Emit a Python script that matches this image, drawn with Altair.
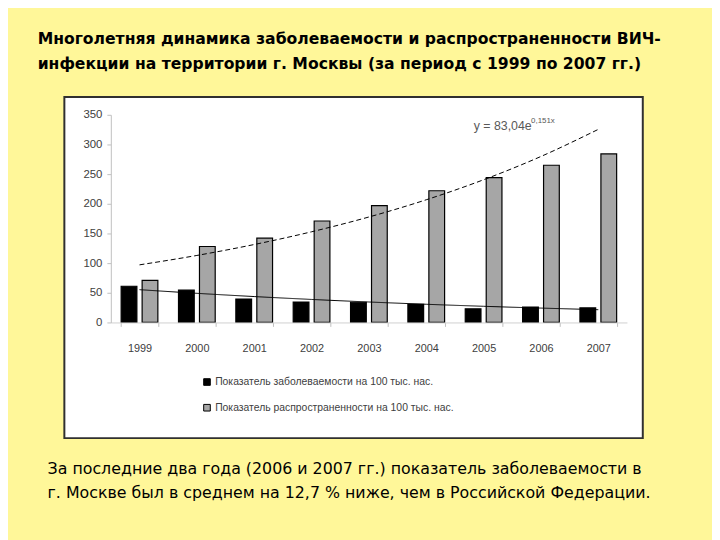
import altair as alt
import pandas as pd

# ---- data ----
years = [1999, 2000, 2001, 2002, 2003, 2004, 2005, 2006, 2007]
incidence = [61, 54.5, 39.5, 34.5, 34, 30.5, 23, 26, 24.5]
prevalence = [71, 128, 142, 171, 197, 222, 244, 265, 284]
series_names = ["Показатель заболеваемости на 100 тыс. нас.",
                "Показатель распространенности на 100 тыс. нас."]
series_colors = ["#000000", "#A6A6A6"]
y_ticks = [0, 50, 100, 150, 200, 250, 300, 350]

title_1 = "Многолетняя динамика заболеваемости и распространенности ВИЧ-"
title_2 = "инфекции на территории г. Москвы (за период с 1999 по 2007 гг.)"
note_1 = "За последние два года (2006 и 2007 гг.) показатель заболеваемости в"
note_2 = "г. Москве был в среднем на 12,7 % ниже, чем в Российской Федерации."
eq_main = "y = 83,04e"
eq_sup = "0,151x"

# ---- tables ----
long_df = pd.DataFrame(
    [{"year": y, "series": series_names[0], "value": v} for y, v in zip(years, incidence)]
    + [{"year": y, "series": series_names[1], "value": v} for y, v in zip(years, prevalence)]
)
wide_df = pd.DataFrame({"year": years, "inc": incidence, "prev": prevalence})

AX_FONT = "Liberation Sans"
TXT_COLOR = "#404040"

y_enc = alt.Y(
    "value:Q",
    scale=alt.Scale(domain=[0, 350], nice=False),
    axis=alt.Axis(values=y_ticks, title=None, grid=False, labelFont=AX_FONT,
                  labelFontSize=11.5, labelColor=TXT_COLOR, domainColor="#BFBFBF",
                  tickColor="#BFBFBF", tickSize=4, labelPadding=5, zindex=2),
)

panel = alt.Chart(alt.Data(values=[{}])).mark_rect(
    fill="white", stroke="#303030", strokeWidth=2
).encode(x=alt.value(-47), x2=alt.value(538), y=alt.value(-18), y2=alt.value(327))

bars = alt.Chart(long_df).mark_bar(stroke="black", strokeWidth=1.2).encode(
    x=alt.X("year:O", scale=alt.Scale(paddingInner=0.36, paddingOuter=0.18),
            axis=alt.Axis(title=None, labelAngle=0, tickBand="extent", labelFont=AX_FONT,
                          labelFontSize=11, labelColor=TXT_COLOR, domainColor="#D0D0D0",
                          tickColor="#BFBFBF", tickSize=4, labelPadding=16, zindex=2)),
    xOffset=alt.XOffset("series:N", sort=series_names,
                        scale=alt.Scale(paddingInner=0.25, paddingOuter=0)),
    y=y_enc,
    color=alt.Color("series:N", sort=series_names,
                    scale=alt.Scale(domain=series_names, range=series_colors),
                    legend=alt.Legend(title=None, orient="none", legendX=92, legendY=265,
                                      direction="vertical", symbolType="square",
                                      symbolSize=45, symbolStrokeColor="black",
                                      symbolStrokeWidth=1, labelFont=AX_FONT,
                                      labelFontSize=10.5, labelColor=TXT_COLOR,
                                      labelLimit=400, rowPadding=14, labelOffset=3,
                                      zindex=2)),
)

x_trend = alt.X("idx:Q", scale=alt.Scale(domain=[0.5, 9.5], nice=False, zero=False), axis=None)


def exp_trend(field, dash):
    # Excel-style exponential trend: least squares of ln(y) against the period number
    return alt.Chart(wide_df).transform_calculate(
        idx="datum.year - 1998", ly=f"log(datum.{field})"
    ).transform_joinaggregate(
        mx="mean(idx)", mly="mean(ly)"
    ).transform_calculate(
        cxy="(datum.idx - datum.mx) * (datum.ly - datum.mly)",
        cxx="(datum.idx - datum.mx) * (datum.idx - datum.mx)",
    ).transform_joinaggregate(
        sxy="sum(cxy)", sxx="sum(cxx)"
    ).transform_calculate(
        value="exp(datum.mly + datum.sxy / datum.sxx * (datum.idx - datum.mx))"
    ).mark_line(color="black", strokeWidth=1, strokeDash=dash, interpolate="monotone").encode(
        x=x_trend, y=y_enc, order="idx:Q"
    )


trend_prev = exp_trend("prev", [5, 3])
trend_inc = exp_trend("inc", [1, 0])


def label(text, x, y, size, weight="normal", color="black", font="DejaVu Sans"):
    return alt.Chart(alt.Data(values=[{}])).mark_text(
        align="left", baseline="alphabetic", fontSize=size, fontWeight=weight,
        font=font, color=color
    ).encode(x=alt.value(x), y=alt.value(y), text=alt.value(text))


texts = [
    label(title_1, -74, -71.5, 15.8, "bold"),
    label(title_2, -74, -46.5, 15.8, "bold"),
    label(note_1, -64, 363, 16),
    label(note_2, -64, 387.5, 16),
    label(eq_main, 367, 15, 12.5, color="#595959", font="Liberation Sans"),
    label(eq_sup, 425, 8, 8, color="#595959", font="Liberation Sans"),
]

chart = alt.layer(panel, bars, trend_prev, trend_inc, *texts).resolve_scale(
    x="independent"
).properties(
    width=522, height=210,
    padding={"left": 104, "top": 105, "right": 86, "bottom": 217},
    autosize=alt.AutoSizeParams(type="none"),
    background="#FFF799",
).configure_view(stroke=None)

chart.save("out.html", embed_options={"renderer": "svg", "actions": False})
